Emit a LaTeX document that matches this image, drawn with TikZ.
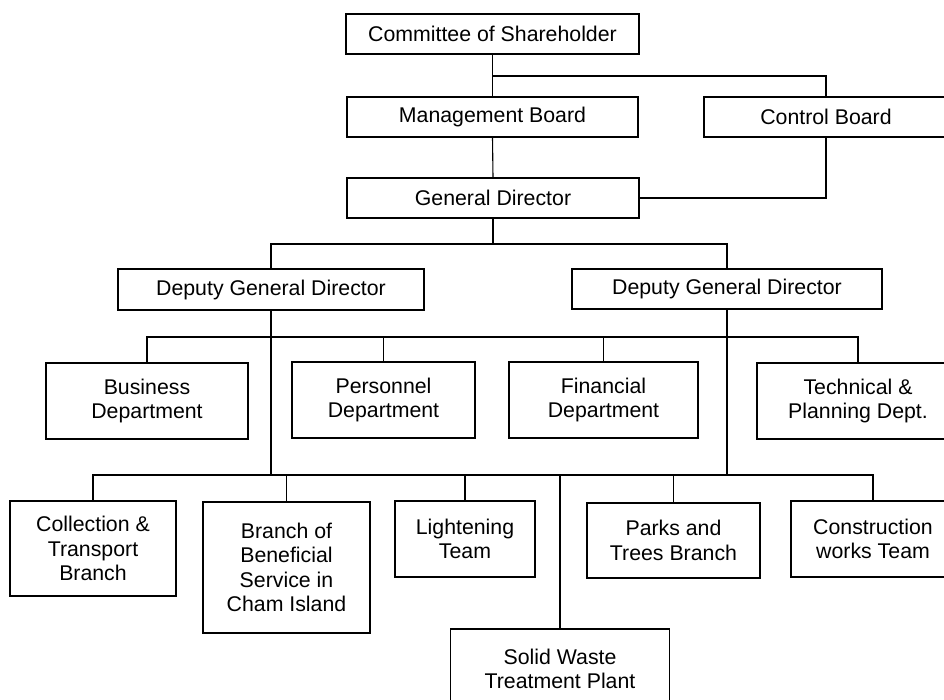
\documentclass[tikz,border=0pt]{standalone}
\usepackage{fontspec}
\setmainfont{Liberation Sans}
\begin{document}
\begin{tikzpicture}[x=1pt,y=-1pt,
  box/.style={draw, line width=1.1pt, inner sep=0pt, align=center,
              font=\fontsize{21.3}{24.5}\selectfont},
  link/.style={line width=1.1pt},
  trunk/.style={line width=1.8pt}]
\useasboundingbox (0,0) rectangle (944,700);
\clip (0,0) rectangle (944,700);

% top management
\node[box, minimum width=293pt, minimum height=40pt] (com) at (492.5,34) {Committee of Shareholder};
\node[box, minimum width=291pt, minimum height=40pt] (mb)  at (492.5,117) {Management Board};
\node[box, minimum width=244pt, minimum height=40pt] (cb)  at (826,117) {Control Board};
\node[box, minimum width=292pt, minimum height=40pt] (gd)  at (493,198) {General Director};

% deputies
\node[box, minimum width=306pt, minimum height=41pt] (dl) at (271,289.5) {Deputy General Director};
\node[box, minimum width=310pt, minimum height=40pt] (dr) at (727,289) {Deputy General Director};

% departments
\node[box, minimum width=202pt, minimum height=76pt] (bus) at (147,401) {Business\\Department};
\node[box, minimum width=183pt, minimum height=76pt] (per) at (383.5,400) {Personnel\\Department};
\node[box, minimum width=189pt, minimum height=76pt] (fin) at (603.5,400) {Financial\\Department};
\node[box, minimum width=202pt, minimum height=76pt] (tec) at (858,401) {Technical \&\\Planning Dept.};

% branches and teams
\node[box, minimum width=166pt, minimum height=95pt]  (col) at (93,548.5) {Collection \&\\Transport\\Branch};
\node[box, minimum width=167pt, minimum height=131pt] (bra) at (286.5,567.5) {Branch of\\Beneficial\\Service in\\Cham Island};
\node[box, minimum width=140pt, minimum height=76pt]  (lig) at (465,539) {Lightening\\Team};
\node[box, minimum width=219pt, minimum height=80pt]  (sol) at (560,669) {Solid Waste\\Treatment Plant};
\node[box, minimum width=173pt, minimum height=75pt]  (par) at (673.5,540.5) {Parks and\\Trees Branch};
\node[box, minimum width=164pt, minimum height=76pt]  (con) at (873,539) {Construction\\works Team};

% bus levels
\coordinate (j1) at (493,76);
\coordinate (j2) at (494,244);
\coordinate (b1) at (0,337);
\coordinate (b2) at (0,475);

% connectors, top part
\draw[link] (com.south) -- (mb.north);
\draw[link] (com.south |- j1) -| (cb.north);
\draw[link] (mb.south) -- (gd.north);
\draw[link] (cb.south) |- (gd.east);
\draw[link] (gd.south) -- (gd.south |- j2);
\draw[link] (dl.north) |- (j2) -| (dr.north);

% departments bus
\draw[link] (bus.north) |- (tec.north |- b1) -- (tec.north);
\draw[link] (per.north) -- (per.north |- b1);
\draw[link] (fin.north) -- (fin.north |- b1);

% branches bus
\draw[link] (col.north) |- (con.north |- b2) -- (con.north);
\draw[link] (bra.north) -- (bra.north |- b2);
\draw[link] (lig.north) -- (lig.north |- b2);
\draw[link] (sol.north) -- (sol.north |- b2);
\draw[link] (par.north) -- (par.north |- b2);

% trunks from the deputies
\draw[trunk] (dl.south) -- (dl.south |- b2);
\draw[trunk] (dr.south) -- (dr.south |- b2);
\end{tikzpicture}
\end{document}
